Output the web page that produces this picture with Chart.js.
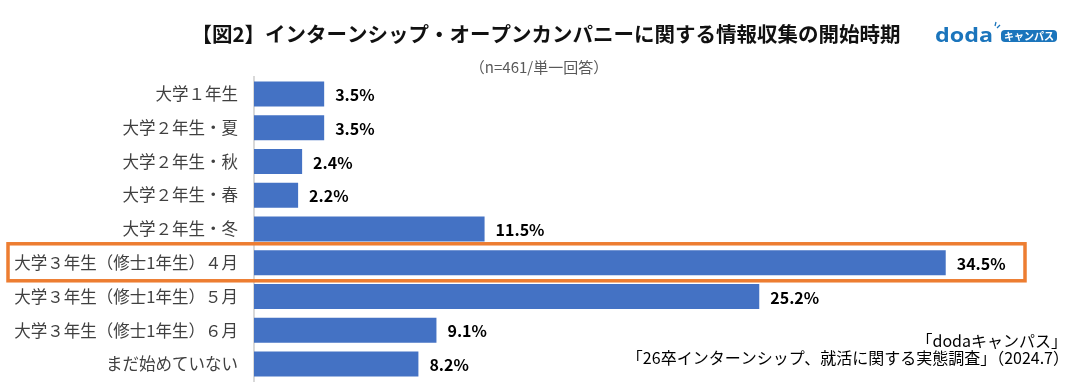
<!DOCTYPE html>
<html>
<head>
<meta charset="utf-8">
<script src="https://cdn.jsdelivr.net/npm/chart.js@4"></script>
<style>
    html, body { margin: 0; padding: 0; background: #fff; }
    #wrap { width: 1087px; height: 387px; position: relative; }
</style>
</head>
<body>
<div id="wrap"><canvas id="bar-chart" width="1087" height="387"></canvas></div>
<script>
const categories = [
    '大学１年生',
    '大学２年生・夏',
    '大学２年生・秋',
    '大学２年生・春',
    '大学２年生・冬',
    '大学３年生（修士1年生）４月',
    '大学３年生（修士1年生）５月',
    '大学３年生（修士1年生）６月',
    'まだ始めていない',
];
const shares = [3.5, 3.5, 2.4, 2.2, 11.5, 34.5, 25.2, 9.1, 8.2];
const highlightIndex = 5;

const titleText = '【図2】インターンシップ・オープンカンパニーに関する情報収集の開始時期';
const subtitleText = '（n=461/単一回答）';
const sourceLines = ['「dodaキャンパス」', '「26卒インターンシップ、就活に関する実態調査」（2024.7）'];

const JP = '"Noto Sans CJK JP", "Noto Sans", sans-serif';

const extras = {
    id: 'extras',
    afterDatasetsDraw(chart) {
        const ctx = chart.ctx;
        const meta = chart.getDatasetMeta(0);

        // value labels
        ctx.save();
        ctx.font = 'bold 16px ' + JP;
        ctx.fillStyle = '#000';
        ctx.textBaseline = 'middle';
        ctx.textAlign = 'left';
        meta.data.forEach((bar, i) => {
            ctx.fillText(shares[i].toFixed(1) + '%', bar.x + 11, bar.y + 1);
        });

        // highlight box round the 4月 row
        const bar = meta.data[highlightIndex];
        ctx.strokeStyle = '#ED7D31';
        ctx.lineWidth = 3.5;
        ctx.strokeRect(8, bar.y - 19, 1017, 37);
        ctx.restore();
    },
    afterDraw(chart) {
        const ctx = chart.ctx;
        ctx.save();
        ctx.textBaseline = 'middle';

        ctx.fillStyle = '#111';
        ctx.font = 'bold 20.5px ' + JP;
        ctx.textAlign = 'center';
        ctx.fillText(titleText, 546, 34);

        ctx.fillStyle = '#595959';
        ctx.font = '15px ' + JP;
        ctx.fillText(subtitleText, 539, 67);

        // logo
        ctx.fillStyle = '#1b75bc';
        ctx.font = 'bold 20px "Open Sans", sans-serif';
        ctx.textAlign = 'left';
        ctx.textBaseline = 'alphabetic';
        const w = ctx.measureText('doda').width;
        ctx.save();
        ctx.translate(935, 42);
        ctx.scale(58 / w, 1);
        ctx.fillText('doda', 0, 0);
        ctx.restore();
        ctx.beginPath();
        ctx.roundRect(1001, 30, 56, 12, 4);
        ctx.fill();
        ctx.fillStyle = '#fff';
        ctx.font = 'bold 10.5px ' + JP;
        ctx.textAlign = 'center';
        ctx.textBaseline = 'middle';
        ctx.fillText('キャンパス', 1029, 36.5, 50);
        ctx.strokeStyle = '#1b75bc';
        ctx.lineWidth = 1.3;
        ctx.beginPath();
        ctx.moveTo(995, 26); ctx.lineTo(996, 22);
        ctx.moveTo(997, 28); ctx.lineTo(1000, 25);
        ctx.stroke();

        // source
        ctx.fillStyle = '#000';
        ctx.font = '16px ' + JP;
        ctx.textAlign = 'right';
        ctx.fillText(sourceLines[0], 1067, 341);
        ctx.fillText(sourceLines[1], 1069, 358);
        ctx.restore();
    }
};

new Chart(document.getElementById('bar-chart'), {
    type: 'bar',
    data: {
        labels: categories,
        datasets: [{
            data: shares,
            backgroundColor: '#4472C4',
            barPercentage: 0.74,
            categoryPercentage: 1,
        }],
    },
    options: {
        indexAxis: 'y',
        responsive: false,
        animation: false,
        layout: {
            padding: { left: 0, right: 31, top: 77, bottom: 6 },
        },
        plugins: {
            legend: { display: false },
            tooltip: { enabled: false },
        },
        scales: {
            x: {
                display: false,
                min: 0,
                max: 40,
            },
            y: {
                afterFit: (scale) => {
                    scale.width = 254;
                    scale.paddingTop = 0;
                    scale.paddingBottom = 0;
                },
                grid: { display: false, drawTicks: false },
                border: { color: '#d9d9d9', width: 2 },
                ticks: {
                    padding: 16,
                    color: '#404040',
                    font: { family: JP, size: 16.5 },
                },
            },
        },
    },
    plugins: [extras],
});
</script>
</body>
</html>
